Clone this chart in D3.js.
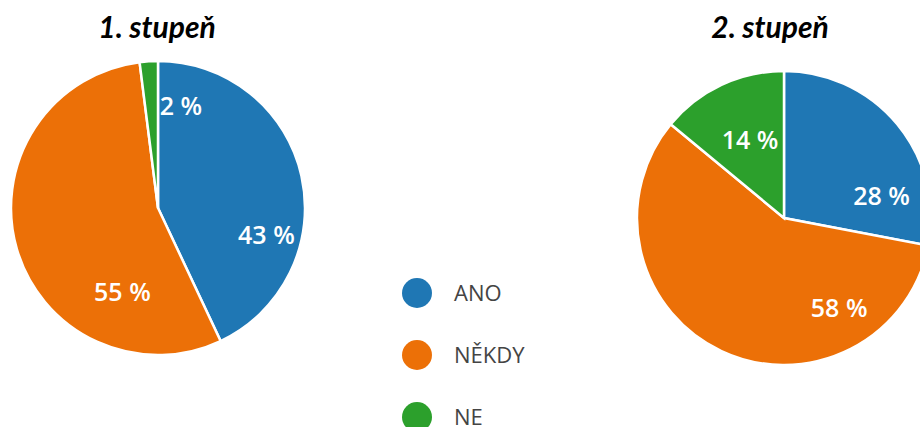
<!DOCTYPE html>
<html>
<head>
<meta charset="utf-8">
<script src="https://cdn.jsdelivr.net/npm/d3@7"></script>
<style>
  body { margin: 0; background: #fff; }
  svg { display: block; }
</style>
</head>
<body>
<script>
const width = 920;
const height = 427;
const radius = 147;

const categories = ['ANO', 'NĚKDY', 'NE'];
const colors = ['#1f77b4', '#ec7007', '#2ca02c'];
const pieTitles = ['1. stupeň', '2. stupeň'];
const firstValues = [43, 55, 2];
const secondValues = [28, 58, 14];

// where the percent labels sit: angle (deg from top, clockwise) and radius fraction
const firstLabelSpots = [[104, 0.76], [203, 0.62], [12.7, 0.71]];
const secondLabelSpots = [[77.4, 0.68], [148.6, 0.72], [336.5, 0.58]];

const pies = [
  { title: pieTitles[0], values: firstValues, spots: firstLabelSpots, cx: 158, cy: 208, titleX: 157 },
  { title: pieTitles[1], values: secondValues, spots: secondLabelSpots, cx: 784, cy: 218, titleX: 770 }
];

const svg = d3.select('body')
  .append('svg')
  .attr('width', width)
  .attr('height', height);

const pie = d3.pie()
  .sort(null)
  .value(d => d);

const arc = d3.arc()
  .innerRadius(0)
  .outerRadius(radius);

pies.forEach(p => {
  svg.append('text')
    .attr('x', p.titleX)
    .attr('y', 38)
    .attr('text-anchor', 'middle')
    .attr('font-family', 'Lato, sans-serif')
    .attr('font-weight', 'bold')
    .attr('font-style', 'italic')
    .attr('font-size', 30)
    .attr('fill', '#000')
    .text(p.title);

  const g = svg.append('g')
    .attr('transform', 'translate(' + p.cx + ',' + p.cy + ')');

  const arcs = pie(p.values);

  g.selectAll('path')
    .data(arcs)
    .enter()
    .append('path')
    .attr('d', arc)
    .attr('fill', (d, i) => colors[i])
    .attr('stroke', '#fff')
    .attr('stroke-width', 2.5);

  g.selectAll('text')
    .data(arcs)
    .enter()
    .append('text')
    .attr('x', (d, i) => Math.sin(p.spots[i][0] * Math.PI / 180) * p.spots[i][1] * radius)
    .attr('y', (d, i) => -Math.cos(p.spots[i][0] * Math.PI / 180) * p.spots[i][1] * radius)
    .attr('dy', '0.35em')
    .attr('text-anchor', 'middle')
    .attr('font-family', '"Open Sans", sans-serif')
    .attr('font-weight', 600)
    .attr('font-size', 25)
    .attr('fill', '#fff')
    .text(d => d.data + ' %');
});

const legendScale = d3.scalePoint()
  .domain(categories)
  .range([293, 417]);

const legend = svg.selectAll('.legend')
  .data(categories)
  .enter()
  .append('g')
  .attr('class', 'legend')
  .attr('transform', d => 'translate(417,' + legendScale(d) + ')');

legend.append('circle')
  .attr('r', 15)
  .attr('fill', (d, i) => colors[i]);

legend.append('text')
  .attr('x', 37)
  .attr('dy', '0.35em')
  .attr('font-family', '"Open Sans", sans-serif')
  .attr('font-size', 22)
  .attr('fill', '#444')
  .text(d => d);
</script>
</body>
</html>
